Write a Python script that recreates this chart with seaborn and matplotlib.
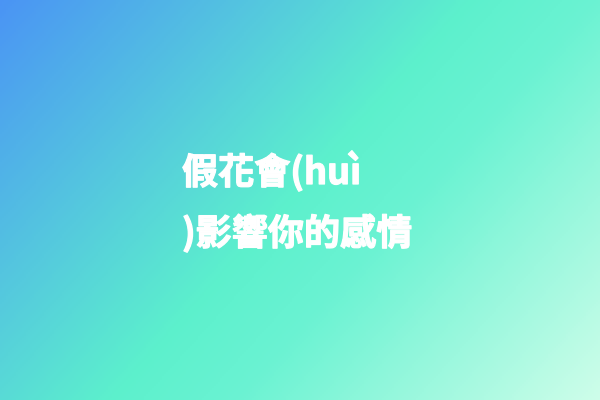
import numpy as np
import seaborn as sns
import matplotlib.pyplot as plt
import matplotlib.patheffects as pe
from matplotlib.colors import LinearSegmentedColormap

# background gradient stops (position along the diagonal, colour)
stop_pos = [0.0, 0.49, 0.62, 1.0]
stop_colors = ["#4a94f4", "#5cf0cc", "#6af2d2", "#cdfde9"]

# title text, split into the two lines shown
title_lines = ["假花會(huì", ")影響你的感情"]

sns.set_theme(style="white")
plt.rcParams['font.family'] = ['Noto Sans CJK TC', 'DejaVu Sans']

nrows, ncols = 200, 300
xx, yy = np.meshgrid(np.linspace(0, 1, ncols), np.linspace(0, 1, nrows))
grad = 0.625 * xx + 0.375 * yy

cmap = LinearSegmentedColormap.from_list("bg", list(zip(stop_pos, stop_colors)))

fig = plt.figure(figsize=(6, 4), dpi=100)
ax = fig.add_axes([0, 0, 1, 1])
sns.heatmap(grad, cmap=cmap, vmin=0, vmax=1, cbar=False,
            xticklabels=False, yticklabels=False, ax=ax, rasterized=True)
ax.set_axis_off()

# a thin white outline makes the bold strokes as heavy as in the original
thick = [pe.withStroke(linewidth=0.9, foreground="white")]
fig.text(182 / 600, 1 - 184 / 400, title_lines[0], color="white",
         fontsize=26, fontweight="bold", ha="left", va="baseline",
         path_effects=thick)
fig.text(182 / 600, 1 - 245 / 400, title_lines[1], color="white",
         fontsize=26, fontweight="bold", ha="left", va="baseline",
         path_effects=thick)

plt.savefig("out.png", dpi=100)
